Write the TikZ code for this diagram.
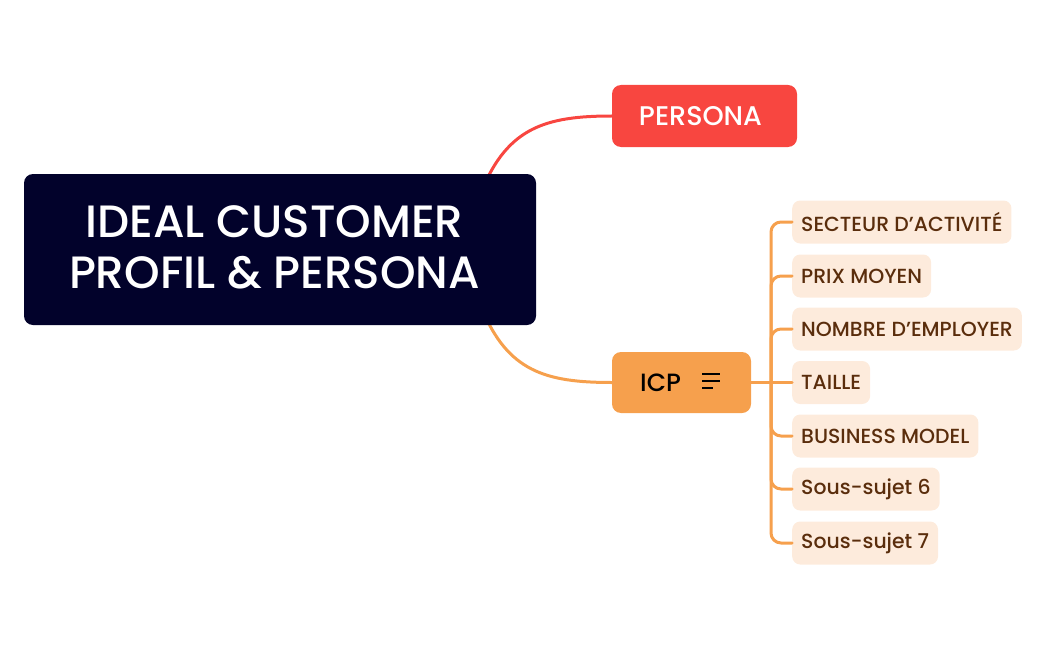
\documentclass[tikz,border=0pt]{standalone}
\usepackage{fontspec}
\setmainfont{Poppins}[UprightFont=* Medium, BoldFont=* SemiBold]
\definecolor{rootc}{HTML}{02022B}
\definecolor{redc}{HTML}{F84640}
\definecolor{orc}{HTML}{F6A04D}
\definecolor{peach}{HTML}{FDEBDC}
\definecolor{brownc}{HTML}{5A2D0C}
\tikzset{
  child/.style={fill=peach, rounded corners=8pt, anchor=west, inner xsep=9pt, minimum height=43pt, text=brownc, font=\fontsize{20.4}{24}\selectfont},
  link/.style={line width=3pt, line cap=round},
  topic/.style={rounded corners=9pt}
}
\begin{document}
\begin{tikzpicture}[x=1pt,y=-1pt]
\useasboundingbox (0,0) rectangle (1049,650);
\node[topic, fill=redc, minimum width=185pt, minimum height=62pt] (persona) at (704.5,116) {};
\node[topic, fill=orc, minimum width=139pt, minimum height=61pt] (icp) at (681.5,382.5) {};
\coordinate (rs) at (482,190);
\coordinate (rs2) at (482,309);
\draw[link, redc] (rs) .. controls (508,128) and (545,116) .. (persona.west);
\draw[link, orc] (rs2) .. controls (508,371) and (545,382.5) .. (icp.west);
\node[topic, fill=rootc, minimum width=512pt, minimum height=151pt] (root) at (280,249.5) {};
\node[text=white, align=center, font=\fontsize{45.3}{51}\selectfont] (roottext) at (274.5,247.5) {IDEAL CUSTOMER\\PROFIL \& PERSONA};
\node[text=white, font=\fontsize{27}{30}\selectfont] (personatext) at (700.5,116) {PERSONA};
\node[font=\fontsize{25}{28}\selectfont, text=black, anchor=west, inner xsep=0pt] (icpt) at (640,382.5) {ICP};
\draw[line width=2pt, black] (702,374) -- (720,374) (702,381) -- (720,381) (702,388) -- (713,388);
\coordinate (bus) at (771,382.5);
\node[child] (c1) at (792,222) {SECTEUR D’ACTIVITÉ};
\node[child] (c2) at (792,276) {PRIX MOYEN};
\node[child] (c3) at (792,329) {NOMBRE D’EMPLOYER};
\node[child] (c4) at (792,382.5) {TAILLE};
\node[child] (c5) at (792,436) {BUSINESS MODEL};
\node[child] (c6) at (792,489) {Sous-sujet 6};
\node[child] (c7) at (792,543) {Sous-sujet 7};
\draw[link, orc] (icp.east) -- (c4.west);
\foreach \c in {c1,c2,c3,c5,c6,c7}{
  \draw[link, orc, rounded corners=10pt] (bus) |- (\c.west);
}
\end{tikzpicture}
\end{document}
